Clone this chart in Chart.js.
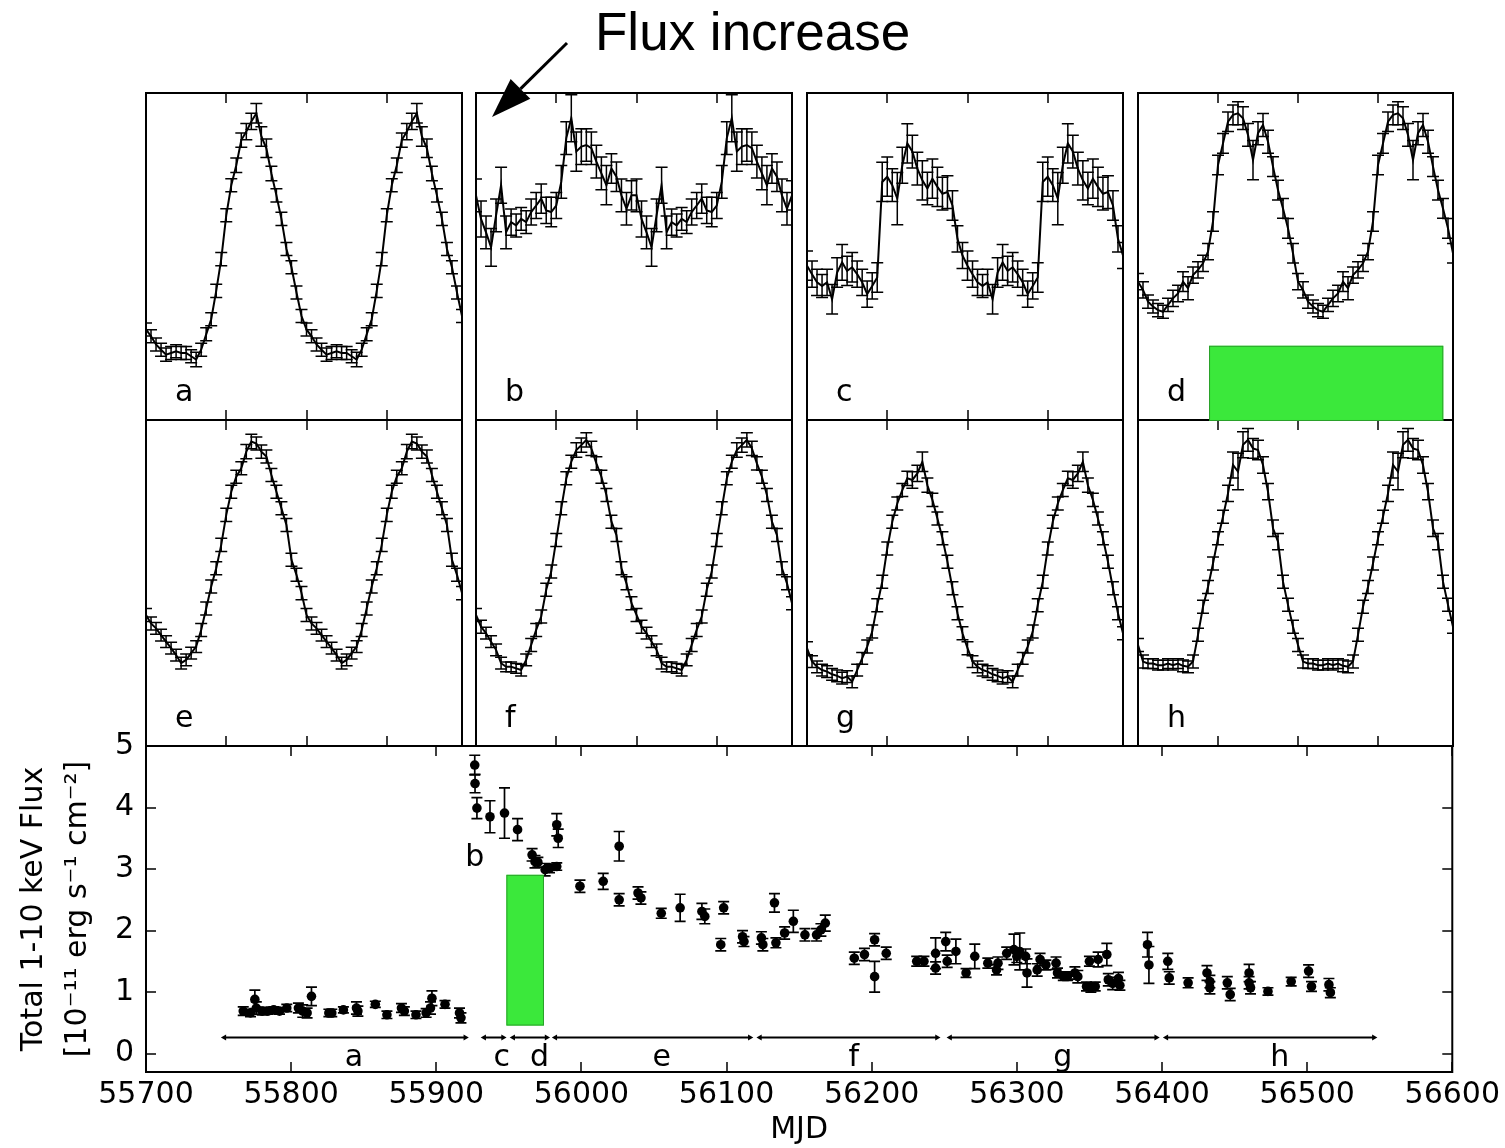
<!DOCTYPE html>
<html>
<head>
<meta charset="utf-8">
<script src="https://cdn.jsdelivr.net/npm/chart.js@4.4.0/dist/chart.umd.min.js"></script>
<style>
  body { margin: 0; background: #fff; }
  #page { position: relative; width: 1505px; height: 1148px; overflow: hidden; background: #fff; }
  #page canvas { position: absolute; }
  #note { position: absolute; left: 595px; top: 5px; font: 53px "Liberation Sans", Arial, sans-serif; color: #000; line-height: 53px; white-space: nowrap; }
</style>
</head>
<body>
<div id="page">
  <div id="note">Flux increase</div>
</div>
<script>
// pulse profiles: 32 phase bins per cycle, normalised rate, shown twice
var nBins = 32;
var phaseTicks = [0.5, 1.0, 1.5];
var panelLetters = ['a', 'b', 'c', 'd', 'e', 'f', 'g', 'h'];

var rateA = [0.277,0.256,0.231,0.215,0.200,0.205,0.210,0.205,0.205,0.195,0.185,0.215,0.262,0.308,0.395,0.492,0.626,0.718,0.779,0.856,0.882,0.913,0.938,0.867,0.831,0.754,0.687,0.615,0.523,0.467,0.390,0.318];
var errA  = [0.02,0.02,0.02,0.02,0.02,0.02,0.02,0.02,0.02,0.02,0.022,0.02,0.02,0.02,0.02,0.02,0.02,0.02,0.022,0.022,0.025,0.025,0.03,0.03,0.028,0.022,0.02,0.02,0.02,0.02,0.02,0.02];

var rateB = [0.687,0.615,0.574,0.528,0.626,0.718,0.574,0.605,0.595,0.615,0.605,0.636,0.656,0.677,0.641,0.636,0.656,0.728,0.862,0.923,0.821,0.836,0.841,0.831,0.790,0.754,0.718,0.769,0.744,0.687,0.646,0.687];
var errB  = [0.05,0.055,0.05,0.058,0.05,0.055,0.05,0.04,0.035,0.035,0.035,0.04,0.04,0.045,0.04,0.045,0.04,0.05,0.05,0.072,0.06,0.055,0.05,0.05,0.05,0.05,0.06,0.045,0.045,0.05,0.05,0.045];

var rateC = [0.472,0.446,0.421,0.410,0.421,0.369,0.451,0.482,0.456,0.467,0.446,0.421,0.385,0.410,0.436,0.728,0.744,0.718,0.677,0.779,0.846,0.821,0.769,0.733,0.708,0.738,0.713,0.692,0.697,0.656,0.554,0.503];
var errC  = [0.045,0.04,0.04,0.035,0.04,0.045,0.045,0.055,0.045,0.045,0.04,0.04,0.04,0.04,0.045,0.06,0.06,0.05,0.08,0.055,0.06,0.05,0.05,0.06,0.05,0.06,0.06,0.05,0.05,0.045,0.04,0.04];

var rateD = [0.423,0.398,0.362,0.347,0.336,0.331,0.352,0.372,0.387,0.423,0.403,0.443,0.459,0.479,0.515,0.607,0.780,0.846,0.912,0.933,0.938,0.923,0.872,0.795,0.877,0.902,0.851,0.775,0.703,0.647,0.586,0.510];
var errD  = [0.025,0.025,0.02,0.02,0.02,0.02,0.02,0.025,0.025,0.03,0.035,0.025,0.025,0.025,0.025,0.03,0.03,0.03,0.03,0.03,0.035,0.035,0.035,0.06,0.035,0.035,0.035,0.03,0.03,0.03,0.03,0.03];

var rateE = [0.402,0.376,0.361,0.340,0.320,0.300,0.279,0.254,0.264,0.285,0.305,0.356,0.422,0.489,0.545,0.617,0.709,0.780,0.826,0.852,0.903,0.934,0.928,0.903,0.888,0.831,0.780,0.729,0.678,0.571,0.525,0.469];
var errE  = [0.02,0.02,0.018,0.018,0.018,0.018,0.018,0.018,0.018,0.018,0.018,0.02,0.02,0.02,0.02,0.02,0.02,0.02,0.02,0.02,0.022,0.022,0.02,0.02,0.02,0.02,0.02,0.02,0.02,0.02,0.02,0.02];

var rateF = [0.402,0.366,0.346,0.320,0.295,0.254,0.243,0.243,0.238,0.233,0.264,0.310,0.356,0.397,0.479,0.535,0.632,0.729,0.821,0.872,0.908,0.923,0.939,0.913,0.867,0.826,0.770,0.688,0.647,0.545,0.499,0.438];
var errF  = [0.02,0.02,0.018,0.018,0.018,0.018,0.015,0.015,0.015,0.018,0.018,0.02,0.02,0.02,0.02,0.02,0.02,0.02,0.02,0.02,0.022,0.022,0.022,0.022,0.02,0.02,0.02,0.02,0.02,0.02,0.02,0.02];

var rateG = [0.300,0.259,0.243,0.233,0.228,0.220,0.215,0.208,0.213,0.197,0.233,0.269,0.305,0.351,0.432,0.504,0.606,0.688,0.744,0.785,0.821,0.816,0.836,0.872,0.800,0.755,0.698,0.637,0.565,0.484,0.407,0.346];
var errG  = [0.02,0.018,0.018,0.018,0.018,0.018,0.018,0.018,0.018,0.018,0.018,0.018,0.02,0.02,0.02,0.02,0.02,0.02,0.02,0.02,0.022,0.025,0.025,0.03,0.022,0.02,0.02,0.02,0.02,0.02,0.02,0.02];

var rateH = [0.310,0.259,0.253,0.253,0.248,0.248,0.253,0.248,0.253,0.246,0.243,0.259,0.341,0.427,0.488,0.560,0.637,0.703,0.775,0.862,0.842,0.924,0.939,0.913,0.908,0.862,0.780,0.668,0.627,0.504,0.433,0.366];
var errH  = [0.02,0.02,0.015,0.015,0.015,0.015,0.015,0.015,0.015,0.018,0.018,0.02,0.02,0.02,0.02,0.02,0.02,0.02,0.025,0.04,0.056,0.04,0.035,0.03,0.03,0.025,0.025,0.025,0.025,0.02,0.02,0.02];

var profileRates = [rateA, rateB, rateC, rateD, rateE, rateF, rateG, rateH];
var profileErrs = [errA, errB, errC, errD, errE, errF, errG, errH];

// long-term light curve
var mjd = [55767,55772,55775,55776,55780,55784,55788,55792,55797,55805,55808,55811,55814,55826,55828,55836,55845,55846,55858,55866,55876,55878,55886,55893,55896,55897,55906,55916,55917,
  55926.5,55926.7,55928,55937,55947,55956,55966,55968,55970,55975,55978,55983,55983,55984,
  55999,56015,56026,56026,56039,56041,56055,56068,56083,56085,56096,56098,56111,56112,
  56124,56125,56133,56134,56140,56146,56154,56162,56165,56168,56188,56195,56202,56202,56210,56231,56236,56244,56244,
  56251,56252,56258,56265,56271,56280,56286,56287,56293,56298,56300,56302,56306,56307,56314,56316,56320,56327,56328,56332,56335,56340,56342,56348,56350,56351,56354,56356,56362,56363,56366,56370,56371,
  56390,56391,56404,56405,56418,56431,56433,56433,56445,56447,56460,56460,56461,56473,56489,56501,56503,56515,56516];
var flux = [0.69,0.66,0.88,0.74,0.69,0.69,0.71,0.69,0.74,0.74,0.69,0.66,0.93,0.66,0.66,0.71,0.74,0.69,0.80,0.63,0.74,0.69,0.63,0.66,0.74,0.90,0.80,0.66,0.58,
  4.69,4.39,3.99,3.85,3.91,3.64,3.23,3.12,3.11,2.99,3.01,3.04,3.72,3.50,
  2.72,2.80,3.37,2.50,2.61,2.53,2.28,2.37,2.31,2.23,1.77,2.37,1.90,1.82,
  1.88,1.77,2.45,1.80,1.96,2.15,1.93,1.93,2.01,2.12,1.55,1.61,1.85,1.25,1.63,1.50,1.50,1.63,1.39,
  1.82,1.50,1.66,1.31,1.58,1.47,1.36,1.47,1.63,1.69,1.58,1.66,1.58,1.31,1.36,1.53,1.44,1.47,1.31,1.26,1.26,1.31,1.25,1.09,1.50,1.07,1.09,1.53,1.61,1.20,1.14,1.22,1.11,
  1.77,1.44,1.50,1.23,1.15,1.31,1.17,1.07,1.15,0.96,1.31,1.15,1.07,1.01,1.17,1.34,1.09,1.12,0.99];
var fluxErr = [0.07,0.06,0.15,0.10,0.06,0.05,0.05,0.05,0.06,0.08,0.10,0.08,0.15,0.06,0.06,0.05,0.10,0.08,0.05,0.06,0.07,0.07,0.06,0.07,0.10,0.12,0.06,0.08,0.08,
  0.16,0.15,0.17,0.26,0.41,0.18,0.10,0.10,0.08,0.10,0.07,0.06,0.18,0.15,
  0.10,0.13,0.24,0.10,0.10,0.10,0.08,0.22,0.13,0.12,0.10,0.10,0.10,0.08,
  0.10,0.10,0.15,0.08,0.10,0.18,0.10,0.10,0.10,0.13,0.10,0.10,0.10,0.25,0.10,0.08,0.08,0.25,0.10,
  0.15,0.10,0.20,0.07,0.20,0.08,0.08,0.10,0.10,0.25,0.10,0.30,0.12,0.23,0.10,0.10,0.08,0.10,0.08,0.07,0.07,0.10,0.10,0.07,0.08,0.07,0.07,0.12,0.18,0.10,0.10,0.10,0.08,
  0.20,0.30,0.13,0.10,0.08,0.12,0.10,0.10,0.10,0.10,0.14,0.10,0.10,0.06,0.07,0.10,0.08,0.10,0.08];

var mjdTicks = [55700, 55800, 55900, 56000, 56100, 56200, 56300, 56400, 56500, 56600];
var fluxTicks = [0, 1, 2, 3, 4, 5];

// observing intervals used for the profiles above
var segStart = [55754, 55933, 55953, 55982, 56123, 56254, 56403];
var segEnd   = [55920, 55946, 55976, 56116, 56245, 56396, 56546];
var segNames = ['a', 'c', 'd', 'e', 'f', 'g', 'h'];
var segLevel = 0.26;
var segLabelLevel = -0.07;
var bLabelPos = [55920, 3.18];

// highlighted boxes
var boxPhase = [0.444, 1.908], boxRate = [-0.003, 0.227];
var boxMjd = [55948.3, 55974.2], boxFlux = [0.455, 2.906];

var GREEN = '#3be83b';
var FONT = '"DejaVu Sans", Verdana, sans-serif';

//Vertical error bars with caps, read from dataset.errors
var errorBars = {
  id: 'errorBars',
  beforeDatasetsDraw: function (chart, args, opts) {
    var ctx = chart.ctx, a = chart.chartArea;
    var xs = chart.scales.x, ys = chart.scales.y;
    ctx.save();
    ctx.beginPath();
    ctx.rect(a.left, a.top, a.right - a.left, a.bottom - a.top);
    ctx.clip();
    ctx.strokeStyle = '#000';
    ctx.lineWidth = opts.width;
    chart.data.datasets.forEach(function (ds) {
      if (!ds.errors) return;
      ds.data.forEach(function (p, i) {
        var e = ds.errors[i];
        var x = xs.getPixelForValue(p.x);
        var lo = ys.getPixelForValue(p.y - e);
        var hi = ys.getPixelForValue(p.y + e);
        ctx.beginPath();
        ctx.moveTo(x, lo); ctx.lineTo(x, hi);
        ctx.moveTo(x - opts.cap, lo); ctx.lineTo(x + opts.cap, lo);
        ctx.moveTo(x - opts.cap, hi); ctx.lineTo(x + opts.cap, hi);
        ctx.stroke();
      });
    });
    ctx.restore();
  }
};

//Box frame, inward ticks, panel letter and the green box
var frame = {
  id: 'frame',
  afterDraw: function (chart, args, opts) {
    var ctx = chart.ctx, a = chart.chartArea;
    var xs = chart.scales.x, ys = chart.scales.y;
    var len = opts.tickLen;
    ctx.save();
    ctx.strokeStyle = '#000';
    ctx.lineWidth = 1.5;
    ctx.beginPath();
    (opts.xTicks || []).forEach(function (v) {
      var x = Math.round(xs.getPixelForValue(v));
      ctx.moveTo(x, a.top); ctx.lineTo(x, a.top + len);
      ctx.moveTo(x, a.bottom); ctx.lineTo(x, a.bottom - len);
    });
    (opts.yTicks || []).forEach(function (v) {
      var y = Math.round(ys.getPixelForValue(v));
      ctx.moveTo(a.left, y); ctx.lineTo(a.left + len, y);
      ctx.moveTo(a.right, y); ctx.lineTo(a.right - len, y);
    });
    ctx.stroke();
    ctx.lineWidth = 2;
    ctx.strokeRect(a.left, a.top, a.right - a.left, a.bottom - a.top);

    if (opts.letter) {
      ctx.fillStyle = '#000';
      ctx.font = '30px ' + FONT;
      ctx.textBaseline = 'alphabetic';
      ctx.fillText(opts.letter, a.left + 29, a.bottom - 19);
    }
    if (opts.box) {
      var b = opts.box;
      var x0 = xs.getPixelForValue(b[0]), x1 = xs.getPixelForValue(b[1]);
      var y0 = ys.getPixelForValue(b[2]), y1 = ys.getPixelForValue(b[3]);
      ctx.fillStyle = GREEN;
      ctx.fillRect(x0, y1, x1 - x0, y0 - y1);
      ctx.strokeStyle = '#2aa02a';
      ctx.lineWidth = 1;
      ctx.strokeRect(x0 + 0.5, y1 + 0.5, x1 - x0 - 1, y0 - y1 - 1);
    }
    ctx.restore();
  }
};

//Interval letters under the arrows of the light curve
var segLabels = {
  id: 'segLabels',
  afterDatasetsDraw: function (chart) {
    var ctx = chart.ctx, xs = chart.scales.x, ys = chart.scales.y;
    ctx.save();
    ctx.fillStyle = '#000';
    ctx.font = '30px ' + FONT;
    ctx.textAlign = 'left';
    ctx.textBaseline = 'middle';
    segNames.forEach(function (n, i) {
      var mid = (segStart[i] + segEnd[i]) / 2;
      ctx.fillText(n, xs.getPixelForValue(mid), ys.getPixelForValue(segLabelLevel));
    });
    ctx.fillText('b', xs.getPixelForValue(bLabelPos[0]), ys.getPixelForValue(bLabelPos[1]));
    ctx.restore();
  }
};

var page = document.getElementById('page');

function addCanvas(left, top, w, h, z) {
  var c = document.createElement('canvas');
  c.width = w; c.height = h;
  c.style.left = left + 'px';
  c.style.top = top + 'px';
  c.style.zIndex = z;
  page.appendChild(c);
  return c;
}

//Start: the eight folded profiles
var colLeft = [146, 476, 807, 1138];
var colWidth = [316, 316, 316, 315];
var rowTop = [93, 420];
var rowHeight = [327, 326];
var pad = 10;

profileRates.forEach(function (rates, p) {
  var col = p % 4, row = Math.floor(p / 4);
  var pts = [], errs = [];
  for (var k = 0; k < 2 * nBins; k++) {
    pts.push({ x: k / nBins, y: rates[k % nBins] });
    errs.push(profileErrs[p][k % nBins]);
  }
  var cv = addCanvas(colLeft[col] - pad, rowTop[row] - pad, colWidth[col] + 2 * pad, rowHeight[row] + 2 * pad, p === 3 ? 4 : 3 - row);
  new Chart(cv, {
    type: 'line',
    data: {
      datasets: [{
        data: pts,
        errors: errs,
        borderColor: '#000',
        borderWidth: 2,
        pointRadius: 0,
        tension: 0,
        fill: false
      }]
    },
    options: {
      responsive: false,
      animation: false,
      events: [],
      layout: { padding: pad },
      plugins: {
        legend: { display: false },
        tooltip: { enabled: false },
        errorBars: { cap: 6, width: 1.5 },
        frame: {
          tickLen: 10,
          xTicks: phaseTicks,
          letter: panelLetters[p],
          box: p === 3 ? [boxPhase[0], boxPhase[1], boxRate[0], boxRate[1]] : null
        }
      },
      scales: {
        x: { type: 'linear', display: false, min: 0, max: (2 * nBins - 1) / nBins },
        y: { type: 'linear', display: false, min: 0, max: 1 }
      }
    },
    plugins: [errorBars, frame]
  });
});
//End: the eight folded profiles

//Start: the long-term flux curve
var fluxPoints = mjd.map(function (m, i) { return { x: m, y: flux[i] }; });

var segSets = segStart.map(function (s, i) {
  return {
    data: [{ x: s, y: segLevel }, { x: segEnd[i], y: segLevel }],
    showLine: true,
    borderColor: '#000',
    backgroundColor: '#000',
    borderWidth: 2,
    pointStyle: 'triangle',
    pointRadius: 3.5,
    pointRotation: [-90, 90],
    pointBorderWidth: 0
  };
});

var tickFont = { family: FONT, size: 30 };

var cvFlux = addCanvas(0, 700, 1505, 448, 1);
new Chart(cvFlux, {
  type: 'scatter',
  data: {
    datasets: [{
      data: fluxPoints,
      errors: fluxErr,
      backgroundColor: '#000',
      borderColor: '#000',
      pointRadius: 4.8,
      pointBorderWidth: 0
    }].concat(segSets)
  },
  options: {
    responsive: false,
    animation: false,
    events: [],
    layout: { padding: { top: 46, right: 52, left: 0, bottom: 0 } },
    plugins: {
      legend: { display: false },
      tooltip: { enabled: false },
      errorBars: { cap: 5.5, width: 1.7 },
      frame: {
        tickLen: 10,
        xTicks: mjdTicks,
        yTicks: fluxTicks,
        box: [boxMjd[0], boxMjd[1], boxFlux[0], boxFlux[1]]
      }
    },
    scales: {
      x: {
        type: 'linear',
        min: 55700,
        max: 56600,
        afterBuildTicks: function (s) { s.ticks = mjdTicks.map(function (v) { return { value: v }; }); },
        afterFit: function (s) { s.height = 76; },
        grid: { display: false, drawTicks: false },
        border: { display: false },
        ticks: {
          color: '#000', font: tickFont, padding: 5,
          maxRotation: 0, autoSkip: false,
          callback: function (v) { return String(v); }
        },
        title: { display: true, text: 'MJD', color: '#000', font: tickFont, padding: 0 }
      },
      y: {
        type: 'linear',
        min: -0.3,
        max: 5,
        afterBuildTicks: function (s) { s.ticks = fluxTicks.map(function (v) { return { value: v }; }); },
        afterFit: function (s) { s.width = 146; },
        grid: { display: false, drawTicks: false },
        border: { display: false },
        ticks: { color: '#000', font: tickFont, padding: 12 },
        title: {
          display: true,
          text: ['Total 1-10 keV Flux', '[10\u207B\u00B9\u00B9 erg s\u207B\u00B9 cm\u207B\u00B2]'],
          color: '#000',
          font: { family: FONT, size: 30, lineHeight: '44px' },
          padding: { top: 12, bottom: 0 }
        }
      }
    }
  },
  plugins: [errorBars, frame, segLabels]
});
//End: the long-term flux curve

//Pointer towards the jump in panel b
var cvArrow = addCanvas(0, 0, 1505, 140, 6);
(function () {
  var ctx = cvArrow.getContext('2d');
  var tail = [567, 43], tip = [492, 117];
  var dx = tail[0] - tip[0], dy = tail[1] - tip[1];
  var d = Math.sqrt(dx * dx + dy * dy);
  var ux = dx / d, uy = dy / d;
  var headLen = 40, headHalf = 14;
  var bx = tip[0] + ux * headLen, by = tip[1] + uy * headLen;
  ctx.strokeStyle = '#000';
  ctx.lineWidth = 3;
  ctx.beginPath();
  ctx.moveTo(tail[0], tail[1]);
  ctx.lineTo(bx, by);
  ctx.stroke();
  ctx.fillStyle = '#000';
  ctx.beginPath();
  ctx.moveTo(tip[0], tip[1]);
  ctx.lineTo(bx - uy * headHalf, by + ux * headHalf);
  ctx.lineTo(bx + uy * headHalf, by - ux * headHalf);
  ctx.closePath();
  ctx.fill();
})();
</script>
</body>
</html>
